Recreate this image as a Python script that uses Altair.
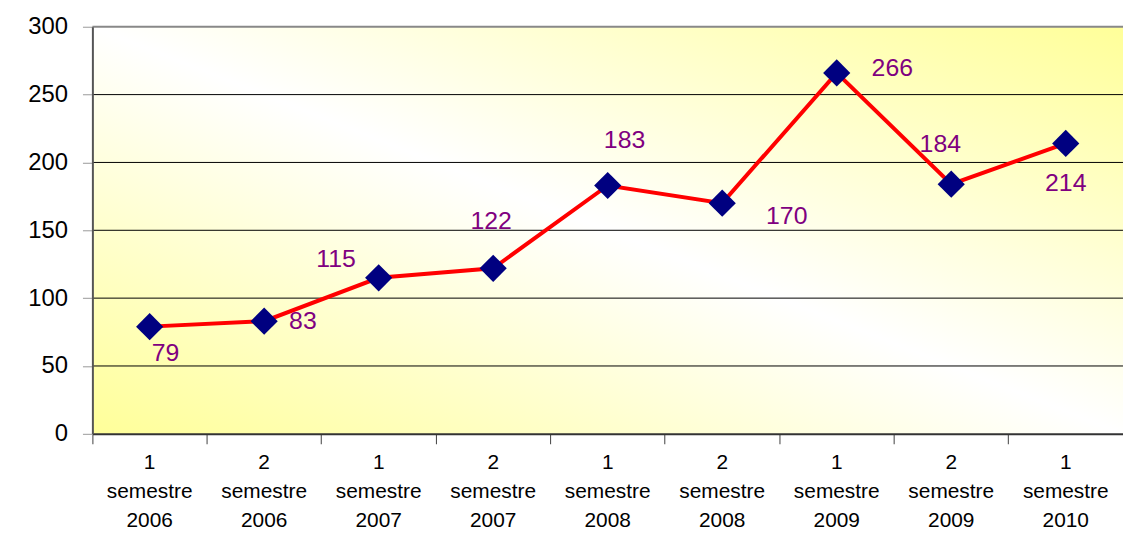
import altair as alt
import pandas as pd

periods = ["1 semestre 2006", "2 semestre 2006", "1 semestre 2007", "2 semestre 2007",
           "1 semestre 2008", "2 semestre 2008", "1 semestre 2009", "2 semestre 2009",
           "1 semestre 2010"]
values = [79, 83, 115, 122, 183, 170, 266, 184, 214]
y_ticks = [0, 50, 100, 150, 200, 250, 300]
grid_vals = [50, 100, 150, 200, 250]
top_val = [300]

df = pd.DataFrame({"period": periods, "value": values, "i": list(range(len(periods)))})
grid_df = pd.DataFrame({"value": grid_vals})
top_df = pd.DataFrame({"value": top_val})

W, H = 1038, 410
FONT = "Liberation Sans"

yscale = alt.Scale(domain=[0, 300], nice=False, zero=True)
y_axis = alt.Axis(title=None, values=y_ticks, labelFont=FONT, labelFontSize=24,
                  labelColor="black", labelPadding=15, tickSize=10,
                  tickColor="#999999", tickWidth=1,
                  domainColor="#555555", domainWidth=2,
                  grid=False, zindex=1)

x_enc = alt.X("period:N", sort=periods,
              scale=alt.Scale(type="band", paddingInner=0, paddingOuter=0),
              axis=alt.Axis(title=None, labelAngle=0, bandPosition=0,
                            labelExpr="split(datum.label, ' ')",
                            labelFont=FONT, labelFontSize=21, labelLineHeight=29,
                            labelColor="black", labelPadding=8,
                            tickSize=10, tickColor="#404040", tickWidth=1,
                            domainColor="#333333", domainWidth=2, grid=False, zindex=1))
y_enc = alt.Y("value:Q", scale=yscale, axis=y_axis)

bg = alt.Chart(df).mark_rect(
    color=alt.Gradient(gradient="linear", x1=0, y1=1, x2=1, y2=0,
                       stops=[alt.GradientStop(offset=0, color="#FFFF99"),
                              alt.GradientStop(offset=0.5, color="#FFFFFF"),
                              alt.GradientStop(offset=1, color="#FFFF99")])
).encode(x=alt.value(0), x2=alt.value(W), y=alt.value(0), y2=alt.value(H))

grid = alt.Chart(grid_df).mark_rule(color="black", strokeWidth=1).encode(
    y=alt.Y("value:Q", scale=yscale, axis=y_axis), x=alt.value(0), x2=alt.value(W))
top = alt.Chart(top_df).mark_rule(color="#888888", strokeWidth=2).encode(
    y=alt.Y("value:Q", scale=yscale, axis=y_axis), x=alt.value(0), x2=alt.value(W))

base = alt.Chart(df).encode(x=x_enc, y=y_enc)
line = base.mark_line(color="#FF0000", strokeWidth=4)
pts = base.mark_point(shape="diamond", filled=True, size=750, color="#000080", opacity=1)

offsets = [(16, 27), (39, 0), (-43, -19), (-2, -48), (17, -46),
           (65, 13), (56, -5), (-11, -40), (0, 40)]
labels = []
for k, (dx, dy) in enumerate(offsets):
    labels.append(
        base.transform_filter(alt.datum.i == k).mark_text(
            font=FONT, fontSize=25, color="#800080", dx=dx, dy=dy,
            align="center", baseline="middle"
        ).encode(text="value:Q")
    )

chart = alt.layer(bg, grid, top, line, pts, *labels).properties(
    width=W, height=H,
    autosize=alt.AutoSizeParams(type="none"),
    padding={"left": 85, "top": 17, "right": 0, "bottom": 98},
).configure_view(stroke=None)

chart.save("out.html", embed_options={"renderer": "svg", "actions": False})
